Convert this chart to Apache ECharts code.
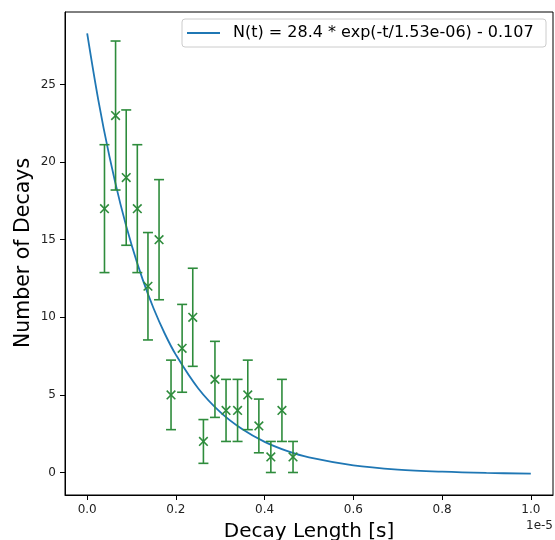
<!DOCTYPE html>
<html>
<head>
<meta charset="utf-8">
<script src="https://cdn.jsdelivr.net/npm/echarts@6/dist/echarts.min.js"></script>
<style>
html,body{margin:0;padding:0;background:#fff;}
#chart{width:555px;height:540px;}
</style>
</head>
<body>
<div id="chart"></div>
<script>
// Data (x in units of 1e-5 s)
const decayLength = [0.039, 0.064, 0.088, 0.113, 0.137, 0.162, 0.189, 0.214, 0.238, 0.262, 0.288, 0.313, 0.339, 0.362, 0.387, 0.414, 0.439, 0.464];
const decayCounts = [17, 23, 19, 17, 12, 15, 5, 8, 10, 2, 6, 4, 4, 5, 3, 1, 4, 1];
const countErrors = [4.12, 4.80, 4.36, 4.12, 3.46, 3.87, 2.24, 2.83, 3.16, 1.41, 2.45, 2.0, 2.0, 2.24, 1.73, 1.0, 2.0, 1.0];
// Fitted curve samples
const fitX = [0, 0.025, 0.05, 0.075, 0.1, 0.125, 0.15, 0.175, 0.2, 0.25, 0.3, 0.35, 0.4, 0.45, 0.5, 0.6, 0.7, 0.8, 0.9, 1.0];
const fitY = [28.29, 24.01, 20.38, 17.29, 14.67, 12.44, 10.55, 8.94, 7.58, 5.43, 3.89, 2.78, 1.97, 1.39, 0.97, 0.46, 0.19, 0.05, -0.03, -0.07];
const xTicks = [0, 0.2, 0.4, 0.6, 0.8, 1.0];
const yTicks = [0, 5, 10, 15, 20, 25];
const legendLabel = 'N(t) = 28.4 * exp(-t/1.53e-06) - 0.107';
const xTitle = 'Decay Length [s]';
const yTitle = 'Number of Decays';
const offsetText = '1e-5';

const FONT = 'DejaVu Sans';
const GREEN = '#2e8c3c';
const BLUE = '#1f77b4';

const chart = echarts.init(document.getElementById('chart'), null, {renderer: 'canvas'});

const errData = decayLength.map((x, i) => [x, decayCounts[i], countErrors[i]]);
const fitData = fitX.map((x, i) => [x, fitY[i]]);

const option = {
  animation: false,
  backgroundColor: '#fff',
  grid: {left: 65, right: 2, top: 12, bottom: 45, show: true, borderColor: '#000', borderWidth: 1, backgroundColor: 'transparent'},
  xAxis: {
    type: 'value', min: -0.05, max: 1.05,
    axisLine: {show: true, onZero: false, lineStyle: {color: '#000', width: 1}},
    axisTick: {show: true, inside: false, length: 5, customValues: xTicks, lineStyle: {color: '#000'}},
    axisLabel: {customValues: xTicks, margin: 9, fontFamily: FONT, fontSize: 12, color: '#222', formatter: v => v.toFixed(1)},
    splitLine: {show: false}
  },
  yAxis: {
    type: 'value', min: -1.45, max: 29.67,
    axisLine: {show: true, onZero: false, lineStyle: {color: '#000', width: 1}},
    axisTick: {show: true, inside: false, length: 5, customValues: yTicks, lineStyle: {color: '#000'}},
    axisLabel: {customValues: yTicks, margin: 9, fontFamily: FONT, fontSize: 12, color: '#222', formatter: v => String(v)},
    splitLine: {show: false}
  },
  series: [
    {
      type: 'line', data: fitData, smooth: 0.35, showSymbol: false, symbol: 'none',
      lineStyle: {color: BLUE, width: 1.8}, z: 2
    },
    {
      type: 'custom', data: errData, z: 3,
      encode: {x: 0, y: 1},
      renderItem: function (params, api) {
        const x = api.value(0), y = api.value(1), e = api.value(2);
        const top = api.coord([x, y + e]);
        const bot = api.coord([x, y - e]);
        const c = api.coord([x, y]);
        const cap = 5, m = 4.3;
        const st = {stroke: GREEN, lineWidth: 1.6};
        return {
          type: 'group',
          children: [
            {type: 'line', shape: {x1: top[0], y1: top[1], x2: bot[0], y2: bot[1]}, style: st},
            {type: 'line', shape: {x1: top[0] - cap, y1: top[1], x2: top[0] + cap, y2: top[1]}, style: st},
            {type: 'line', shape: {x1: bot[0] - cap, y1: bot[1], x2: bot[0] + cap, y2: bot[1]}, style: st},
            {type: 'line', shape: {x1: c[0] - m, y1: c[1] - m, x2: c[0] + m, y2: c[1] + m}, style: st},
            {type: 'line', shape: {x1: c[0] - m, y1: c[1] + m, x2: c[0] + m, y2: c[1] - m}, style: st}
          ]
        };
      }
    }
  ],
  graphic: [
    {type: 'text', x: 309, y: 532, style: {text: xTitle, font: '20px "DejaVu Sans"', fill: '#000', align: 'center', verticalAlign: 'middle'}},
    {type: 'text', x: 24, y: 253, rotation: Math.PI / 2, style: {text: yTitle, font: '20.5px "DejaVu Sans"', fill: '#000', align: 'center', verticalAlign: 'middle'}},
    {type: 'text', x: 553, y: 526, style: {text: offsetText, font: '12px "DejaVu Sans"', fill: '#222', align: 'right', verticalAlign: 'middle'}},
    {type: 'rect', shape: {x: 182, y: 19, width: 364, height: 28, r: 3}, style: {fill: 'rgba(255,255,255,0.8)', stroke: '#cccccc', lineWidth: 1}, z: 10},
    {type: 'line', shape: {x1: 187, y1: 33, x2: 220, y2: 33}, style: {stroke: BLUE, lineWidth: 1.8}, z: 11},
    {type: 'text', x: 233, y: 33, style: {text: legendLabel, font: '16px "DejaVu Sans"', fill: '#000', align: 'left', verticalAlign: 'middle'}, z: 11}
  ]
};
chart.setOption(option);
</script>
</body>
</html>
